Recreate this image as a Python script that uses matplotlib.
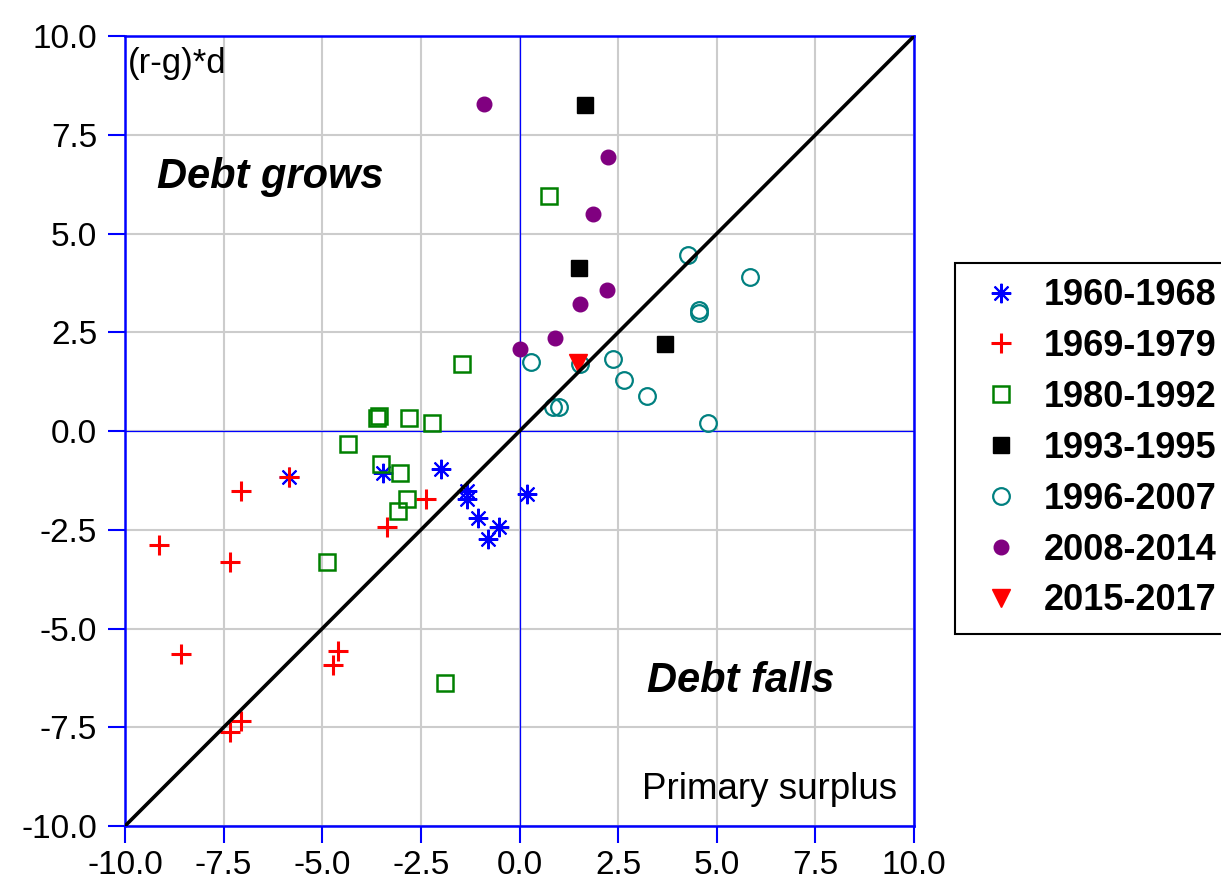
import matplotlib
matplotlib.use("Agg")
import matplotlib.pyplot as plt

plt.rcParams['font.family'] = ['Liberation Sans', 'DejaVu Sans']

# data: primary surplus (x) vs (r-g)*d (y)
x_6068 = [-5.85, -3.45, -1.98, -1.34, -1.32, -1.06, -0.53, -0.79, 0.20]
y_6068 = [-1.16, -1.06, -0.96, -1.52, -1.72, -2.20, -2.43, -2.74, -1.59]

x_6979 = [-9.15, -7.05, -7.35, -8.57, -5.85, -3.35, -2.36, -4.59, -4.74, -7.05, -7.33]
y_6979 = [-2.89, -1.52, -3.32, -5.65, -1.16, -2.43, -1.72, -5.57, -5.92, -7.34, -7.62]

x_8092 = [0.74, -1.47, -3.55, -3.62, -2.81, -2.21, -4.36, -3.50, -3.02, -2.84, -3.07, -4.87, -1.88]
y_8092 = [5.95, 1.70, 0.38, 0.33, 0.33, 0.20, -0.33, -0.84, -1.06, -1.72, -2.03, -3.32, -6.38]

x_9395 = [1.67, 1.50, 3.68]
y_9395 = [8.25, 4.13, 2.20]

x_9607 = [4.28, 5.83, 4.56, 4.56, 0.30, 1.52, 2.36, 2.66, 3.22, 0.84, 1.01, 4.77]
y_9607 = [4.46, 3.90, 3.06, 2.99, 1.75, 1.70, 1.82, 1.29, 0.89, 0.61, 0.61, 0.20]

x_0814 = [-0.89, 2.23, 1.85, 2.21, 1.52, 0.91, 0.00]
y_0814 = [8.28, 6.94, 5.49, 3.57, 3.22, 2.35, 2.08]

x_1517 = [1.47]
y_1517 = [1.72]

ticks = [-10.0, -7.5, -5.0, -2.5, 0.0, 2.5, 5.0, 7.5, 10.0]

fig = plt.figure(figsize=(12.21, 8.82), dpi=100)
ax = fig.add_axes([0.1024, 0.0635, 0.6462, 0.8955])

ax.plot(x_6068, y_6068, ls='none', marker=(8, 2, 0), ms=14, mew=1.5, color='#0000FF', label='1960-1968')
ax.plot(x_6979, y_6979, ls='none', marker='+', ms=14, mew=2.2, color='#FF0000', label='1969-1979')
ax.plot(x_8092, y_8092, ls='none', marker='s', ms=11, mew=1.8, mfc='none', mec='#008000', label='1980-1992')
ax.plot(x_9395, y_9395, ls='none', marker='s', ms=11, color='black', label='1993-1995')
ax.plot(x_9607, y_9607, ls='none', marker='o', ms=12, mew=1.6, mfc='none', mec='#008080', label='1996-2007')
ax.plot(x_0814, y_0814, ls='none', marker='o', ms=10.5, color='#800080', label='2008-2014')
ax.plot(x_1517, y_1517, ls='none', marker='v', ms=13, color='#FF0000', label='2015-2017')

# 45 degree line
ax.plot([-10, 10], [-10, 10], color='black', lw=2.6, zorder=5)

ax.axhline(0, color='#0000FF', lw=0.9, zorder=1)
ax.axvline(0, color='#0000FF', lw=0.9, zorder=1)

ax.set_xlim(-10, 10)
ax.set_ylim(-10, 10)
ax.set_xticks(ticks)
ax.set_yticks(ticks)
ax.set_xticklabels([f"{t:.1f}" for t in ticks], fontsize=24)
ax.set_yticklabels([f"{t:.1f}" for t in ticks], fontsize=24)
ax.grid(color='#cccccc', lw=1.5, zorder=0)
ax.set_axisbelow(True)
ax.tick_params(direction='out', length=12, width=1.5, color='#0000FF', pad=8)
ax.tick_params(axis='x', pad=5)
for s in ax.spines.values():
    s.set_color('#0000FF')
    s.set_linewidth(1.8)

ax.text(-9.94, 9.06, '(r-g)*d', fontsize=25, ha='left', va='baseline')
ax.text(-6.31, 6.15, 'Debt grows', fontsize=30, fontweight='bold', fontstyle='italic', ha='center', va='baseline')
ax.text(5.60, -6.61, 'Debt falls', fontsize=30, fontweight='bold', fontstyle='italic', ha='center', va='baseline')
ax.text(9.58, -9.32, 'Primary surplus', fontsize=26.5, ha='right', va='baseline')

leg = fig.legend(loc='upper left', bbox_to_anchor=(955 / 1221, 1 - 263 / 882),
                 prop={'size': 26, 'weight': 'bold'}, frameon=True, fancybox=False,
                 edgecolor='black', framealpha=1, handlelength=1.72, handletextpad=0.31,
                 labelspacing=0.44, borderpad=0.42, borderaxespad=0)
leg.get_frame().set_linewidth(1.5)

fig.savefig('out.png', dpi=100)
